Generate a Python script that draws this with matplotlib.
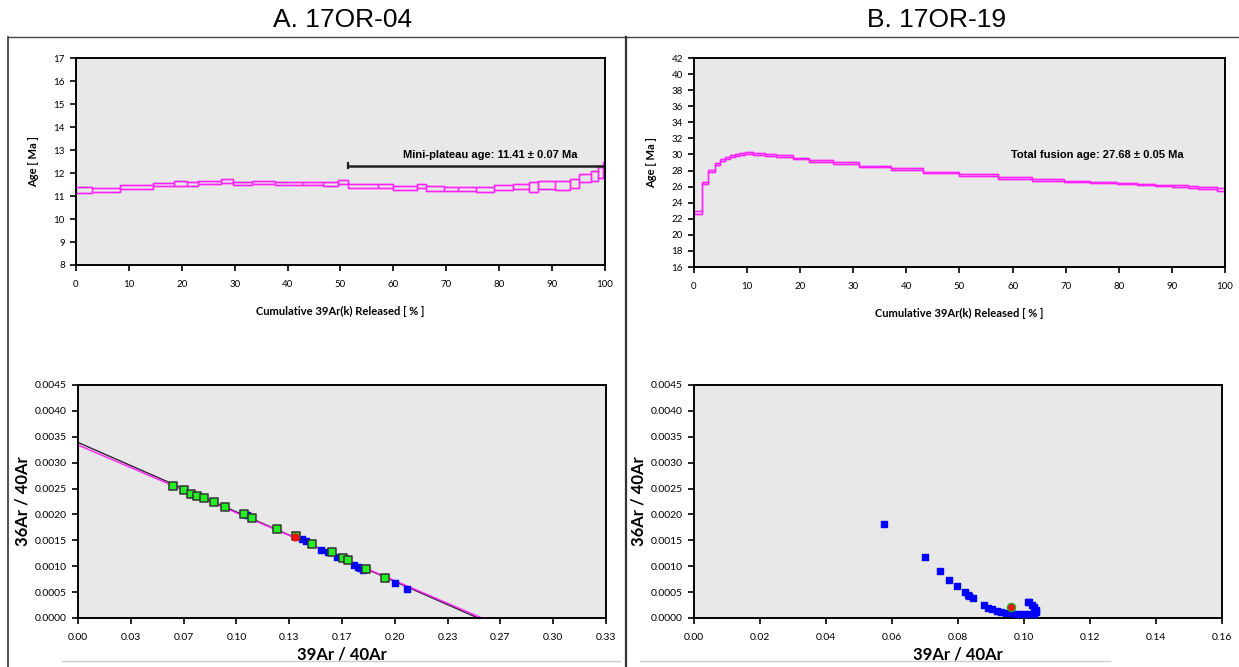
import numpy as np
import matplotlib
matplotlib.use("Agg")
import matplotlib.pyplot as plt
from matplotlib.patches import Rectangle
from matplotlib.lines import Line2D

# ---- A. 17OR-04 age spectrum: step edges (cumulative %), age and 1 sigma
a_edges = [0, 3.1, 8.4, 14.5, 18.6, 20.9, 23.1, 27.5, 29.7, 33.2, 37.6, 43.0, 46.7,
           49.6, 51.4, 57.1, 60.0, 64.4, 66.1, 69.6, 72.3, 75.7, 79.1, 82.6, 85.7,
           87.3, 90.5, 93.4, 95.0, 97.4, 98.6, 99.7, 100]
a_age = [11.26, 11.25, 11.40, 11.50, 11.55, 11.53, 11.57, 11.66, 11.53, 11.57, 11.55,
         11.53, 11.52, 11.61, 11.45, 11.43, 11.36, 11.43, 11.32, 11.30, 11.30, 11.29,
         11.37, 11.40, 11.38, 11.47, 11.47, 11.54, 11.78, 11.87, 12.02, 12.20]
a_err = [0.13, 0.08, 0.10, 0.08, 0.10, 0.10, 0.065, 0.09, 0.07, 0.065, 0.06, 0.07,
         0.07, 0.09, 0.09, 0.08, 0.09, 0.10, 0.10, 0.09, 0.09, 0.10, 0.10, 0.11,
         0.22, 0.18, 0.19, 0.21, 0.18, 0.22, 0.25, 0.30]
plateau_start = 51.4
plateau_age = 12.32

# ---- B. 17OR-19 age spectrum
b_edges = [0, 1.45, 2.7, 3.95, 4.9, 5.8, 6.8, 7.7, 8.5, 9.6, 11.2, 13.4, 15.4, 18.7,
           21.7, 26.1, 31.1, 37.1, 43.2, 49.9, 57.3, 63.6, 69.6, 74.6, 79.6, 83.4,
           86.8, 90.0, 93.1, 95.0, 98.4, 100]
b_age = [22.8, 26.45, 27.95, 28.85, 29.3, 29.6, 29.8, 29.95, 30.05, 30.15, 30.05,
         29.95, 29.8, 29.5, 29.2, 28.9, 28.5, 28.15, 27.75, 27.45, 27.1, 26.8, 26.65,
         26.5, 26.4, 26.27, 26.15, 26.05, 25.95, 25.85, 25.65]
b_err = [0.2, 0.15, 0.15, 0.15, 0.13, 0.12, 0.12, 0.11, 0.11, 0.12, 0.1, 0.1, 0.1,
         0.1, 0.1, 0.12, 0.12, 0.12, 0.1, 0.1, 0.12, 0.12, 0.1, 0.1, 0.1, 0.1, 0.1,
         0.1, 0.1, 0.1, 0.15]

# ---- A. isochron
a_green_x = [0.0597, 0.0667, 0.0716, 0.0749, 0.0796, 0.0858, 0.0926, 0.1045, 0.1098,
             0.1257, 0.1374, 0.1480, 0.1605, 0.1670, 0.1705, 0.1821, 0.1937]
a_green_y = [0.002545, 0.002464, 0.002394, 0.002365, 0.002313, 0.002238, 0.002151,
             0.002000, 0.001930, 0.001728, 0.001577, 0.001438, 0.001270, 0.001155,
             0.001120, 0.000939, 0.000777]
a_blue_x = [0.1066, 0.1412, 0.1442, 0.1533, 0.1577, 0.1635, 0.1745, 0.1765, 0.1780,
            0.1800, 0.2000, 0.2078]
a_blue_y = [0.001983, 0.00153, 0.00148, 0.00132, 0.00127, 0.00118, 0.00102, 0.00099,
            0.00097, 0.00092, 0.000678, 0.000551]
a_red_x = [0.1369]
a_red_y = [0.001559]
a_fit_black = (0.00339, 0.2525)   # (y-intercept, x-intercept)
a_fit_pink = (0.00334, 0.2550)

# ---- B. isochron
b_blue_x = [0.0576, 0.0700, 0.0745, 0.0774, 0.0796, 0.0821, 0.0829, 0.0835, 0.0845,
            0.0878, 0.0892, 0.0904, 0.0918, 0.0932, 0.0946, 0.0961, 0.0979, 0.0996,
            0.1014, 0.1032, 0.1038, 0.1038, 0.1032, 0.1024, 0.1014, 0.1012]
b_blue_y = [0.001815, 0.001183, 0.000910, 0.000736, 0.000614, 0.000504, 0.000446,
            0.000417, 0.000383, 0.000243, 0.000197, 0.000168, 0.000139, 0.000116,
            0.000099, 0.000087, 0.000075, 0.000070, 0.000070, 0.000081, 0.000116,
            0.000157, 0.000209, 0.000255, 0.000301, 0.000313]
b_red_x = [0.0962]
b_red_y = [0.000220]

PINK = "#ff22ff"
BG = "#e8e8e8"
TICK_FONT = "Lato"
TEXT_FONT = "Liberation Sans"


def style_axes(ax, size=7):
    ax.set_facecolor(BG)
    for s in ax.spines.values():
        s.set_linewidth(1.4)
        s.set_color("black")
    ax.tick_params(direction="out", length=4, width=1.2, labelsize=size,
                   pad=4, colors="black")
    ax.tick_params(axis="x", pad=7)
    for lab in ax.get_xticklabels() + ax.get_yticklabels():
        lab.set_fontfamily(TICK_FONT)


def draw_spectrum(ax, edges, age, err):
    age = np.array(age)
    err = np.array(err)
    # upper and lower envelopes as connected step lines
    ax.stairs(age + err, edges, color=PINK, linewidth=1.0, baseline=None)
    ax.stairs(age - err, edges, color=PINK, linewidth=1.0, baseline=None)
    for i in range(len(age)):
        x0, x1 = edges[i], edges[i + 1]
        ax.add_patch(Rectangle((x0, age[i] - err[i]), x1 - x0, 2 * err[i],
                               fill=False, edgecolor=PINK, linewidth=1.0))


def spectrum_labels(ax):
    ax.set_xlabel("Cumulative 39Ar(k) Released [ % ]", fontsize=8, fontweight="bold",
                  fontfamily=TICK_FONT, labelpad=12)
    ax.set_ylabel("Age [ Ma ]", fontsize=8, fontweight="bold", fontfamily=TICK_FONT,
                  labelpad=10)


def isochron_labels(ax):
    ax.set_xlabel("39Ar / 40Ar", fontsize=12, fontweight="bold",
                  fontfamily=TICK_FONT, labelpad=3)
    ax.set_ylabel("36Ar / 40Ar", fontsize=12, fontweight="bold",
                  fontfamily=TICK_FONT, labelpad=3)


fig = plt.figure(figsize=(12.39, 6.67), dpi=100)

# top left: spectrum A
ax1 = fig.add_axes([0.0613, 0.6027, 0.4270, 0.3103])
draw_spectrum(ax1, a_edges, a_age, a_err)
ax1.plot([plateau_start, 100], [plateau_age, plateau_age], color="#222222",
         linewidth=1.8)
ax1.plot([plateau_start, plateau_start], [plateau_age - 0.12, plateau_age + 0.12],
         color="#222222", linewidth=1.6)
ax1.text(78.3, 12.78, "Mini-plateau age: 11.41 \u00b1 0.07 Ma", ha="center",
         va="center", fontsize=8, fontweight="bold", fontfamily=TEXT_FONT)
ax1.set_xlim(0, 100)
ax1.set_ylim(8, 17)
ax1.set_xticks(np.arange(0, 101, 10))
ax1.set_yticks(np.arange(8, 18, 1))
style_axes(ax1)
spectrum_labels(ax1)

# top right: spectrum B
ax2 = fig.add_axes([0.5601, 0.5997, 0.4286, 0.3133])
draw_spectrum(ax2, b_edges, b_age, b_err)
ax2.text(75.9, 29.93, "Total fusion age: 27.68 \u00b1 0.05 Ma", ha="center",
         va="center", fontsize=8, fontweight="bold", fontfamily=TEXT_FONT)
ax2.set_xlim(0, 100)
ax2.set_ylim(16, 42)
ax2.set_xticks(np.arange(0, 101, 10))
ax2.set_yticks(np.arange(16, 43, 2))
style_axes(ax2)
spectrum_labels(ax2)

# bottom left: isochron A
ax3 = fig.add_axes([0.0630, 0.0735, 0.4261, 0.3493])
ax3.plot([0, a_fit_black[1]], [a_fit_black[0], 0], color="#3a1a3a", linewidth=1.0)
ax3.plot([0, a_fit_pink[1]], [a_fit_pink[0], 0], color=PINK, linewidth=1.0)
ax3.scatter(a_blue_x, a_blue_y, marker="s", s=18, color="#0000ff", zorder=3)
ax3.scatter(a_green_x, a_green_y, marker="s", s=26, facecolor="#22ee22",
            edgecolor="#333333", linewidth=1.1, zorder=4)
ax3.scatter(a_red_x, a_red_y, marker="o", s=24, color="#ee1111", zorder=5)
ax3.set_xlim(0, 1 / 3)
ax3.set_ylim(0, 0.0045)
ax3.set_xticks(np.linspace(0, 1 / 3, 11))
ax3.set_xticklabels(["%.2f" % v for v in np.linspace(0, 1 / 3, 11)])
ax3.set_yticks(np.arange(0, 0.00451, 0.0005))
ax3.set_yticklabels(["%.4f" % v for v in np.arange(0, 0.00451, 0.0005)])
style_axes(ax3, size=7.5)
isochron_labels(ax3)

# bottom right: isochron B
ax4 = fig.add_axes([0.5601, 0.0735, 0.4261, 0.3493])
ax4.scatter(b_blue_x, b_blue_y, marker="s", s=20, color="#0000ff", zorder=3)
ax4.scatter(b_red_x, b_red_y, marker="o", s=34, facecolor="#ee1111",
            edgecolor="#22aa22", linewidth=1.0, zorder=5)
ax4.set_xlim(0, 0.16)
ax4.set_ylim(0, 0.0045)
ax4.set_xticks(np.arange(0, 0.161, 0.02))
ax4.set_xticklabels(["%.2f" % v for v in np.arange(0, 0.161, 0.02)])
ax4.set_yticks(np.arange(0, 0.00451, 0.0005))
ax4.set_yticklabels(["%.4f" % v for v in np.arange(0, 0.00451, 0.0005)])
style_axes(ax4, size=7.5)
isochron_labels(ax4)

# panel titles and table-like frame
fig.text(343 / 1239, 1 - 20 / 667, "A. 17OR-04", ha="center", va="center",
         fontsize=19, fontfamily=TEXT_FONT)
fig.text(937 / 1239, 1 - 20 / 667, "B. 17OR-19", ha="center", va="center",
         fontsize=19, fontfamily=TEXT_FONT)
top = 1 - 37 / 667
fig.add_artist(Line2D([8 / 1239, 1], [top, top], color="#444444", linewidth=1.0))
fig.add_artist(Line2D([8 / 1239, 8 / 1239], [0, top], color="#333333", linewidth=1.2))
fig.add_artist(Line2D([626 / 1239, 626 / 1239], [0, top], color="#333333",
                      linewidth=1.6))
low = 1 - 661 / 667
fig.add_artist(Line2D([62 / 1239, 620 / 1239], [low, low], color="#cccccc",
                      linewidth=1.0))
fig.add_artist(Line2D([640 / 1239, 1110 / 1239], [low, low], color="#cccccc",
                      linewidth=1.0))

plt.savefig("out.png", dpi=100)
plt.close()
